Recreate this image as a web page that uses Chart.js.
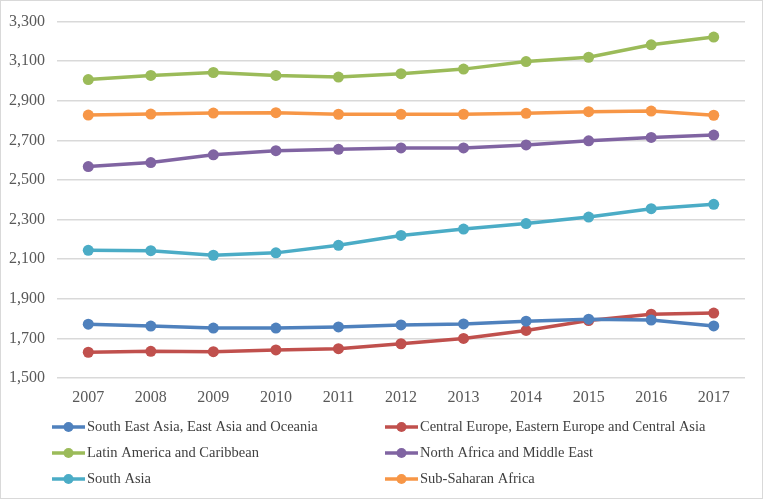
<!DOCTYPE html>
<html lang="en">
<head>
    <meta charset="UTF-8">
    <title>Regional series 2007-2017</title>
    <script src="https://cdn.jsdelivr.net/npm/chart.js"></script>
    <style>
        html, body { margin: 0; padding: 0; background: #fff; }
        #chart { display: block; }
    </style>
</head>
<body>
    <canvas id="chart" width="763" height="499"></canvas>

    <script>
        const years = ['2007', '2008', '2009', '2010', '2011', '2012', '2013', '2014', '2015', '2016', '2017'];

        const seAsia = [1772, 1762, 1752, 1752, 1758, 1768, 1773, 1787, 1797, 1793, 1763];
        const centralEurope = [1630, 1635, 1633, 1642, 1648, 1673, 1700, 1740, 1790, 1822, 1828];
        const latinAmerica = [3007, 3028, 3043, 3028, 3020, 3037, 3060, 3098, 3120, 3183, 3222];
        const northAfrica = [2568, 2588, 2627, 2648, 2655, 2662, 2662, 2677, 2698, 2715, 2727];
        const southAsia = [2145, 2143, 2120, 2132, 2170, 2220, 2252, 2280, 2313, 2355, 2377];
        const subSaharan = [2828, 2833, 2838, 2840, 2832, 2832, 2832, 2837, 2845, 2848, 2827];

        const seriesNames = [
            'South East Asia, East Asia and Oceania',
            'Central Europe, Eastern Europe and Central Asia',
            'Latin America and Caribbean',
            'North Africa and Middle East',
            'South Asia',
            'Sub-Saharan Africa'
        ];
        const seriesValues = [seAsia, centralEurope, latinAmerica, northAfrica, southAsia, subSaharan];
        const colors = ['#4f81bd', '#c0504d', '#9bbb59', '#8064a2', '#4bacc6', '#f79646'];

        const FONT = '"Liberation Serif", "DejaVu Serif", serif';

        // legend in two columns under the axis, plus the thin frame round the picture
        const legendAndFrame = {
            id: 'legendAndFrame',
            afterDraw(chart) {
                const ctx = chart.ctx;
                ctx.save();
                chart.data.datasets.forEach((ds, i) => {
                    const x0 = i % 2 === 0 ? 52 : 385;
                    const y = 427 + Math.floor(i / 2) * 26;
                    ctx.strokeStyle = ds.borderColor;
                    ctx.lineWidth = 3.5;
                    ctx.beginPath();
                    ctx.moveTo(x0, y);
                    ctx.lineTo(x0 + 33, y);
                    ctx.stroke();
                    ctx.fillStyle = ds.borderColor;
                    ctx.beginPath();
                    ctx.arc(x0 + 16.5, y, 5, 0, Math.PI * 2);
                    ctx.fill();
                    ctx.fillStyle = '#404040';
                    ctx.font = '14.5px ' + FONT;
                    ctx.textBaseline = 'middle';
                    ctx.fillText(ds.label, x0 + 35, y);
                });
                ctx.strokeStyle = '#d9d9d9';
                ctx.lineWidth = 1;
                ctx.strokeRect(0.5, 0.5, chart.width - 1, chart.height - 1);
                ctx.restore();
            }
        };

        new Chart(document.getElementById('chart'), {
            type: 'line',
            data: {
                labels: years,
                datasets: seriesValues.map((vals, i) => ({
                    label: seriesNames[i],
                    data: vals,
                    borderColor: colors[i],
                    backgroundColor: colors[i],
                    borderWidth: 3.5,
                    pointRadius: 5.5,
                    pointBorderWidth: 0,
                    tension: 0,
                    fill: false
                }))
            },
            options: {
                responsive: false,
                animation: false,
                layout: { padding: { top: 18, right: 18, left: 0, bottom: 0 } },
                plugins: {
                    legend: { display: false },
                    tooltip: { enabled: false }
                },
                scales: {
                    x: {
                        offset: true,
                        grid: { display: false },
                        border: { display: false },
                        ticks: { color: '#595959', font: { family: FONT, size: 16 }, padding: 2 },
                        afterFit(scale) { scale.height = 121; }
                    },
                    y: {
                        min: 1500,
                        max: 3300,
                        grid: { color: '#d9d9d9', lineWidth: 1.5, drawTicks: false },
                        border: { display: false },
                        ticks: {
                            stepSize: 200,
                            color: '#595959',
                            font: { family: FONT, size: 16 },
                            padding: 12,
                            callback: v => v.toLocaleString('en-US')
                        },
                        afterFit(scale) { scale.width = 57; }
                    }
                }
            },
            plugins: [legendAndFrame]
        });
    </script>
</body>
</html>
